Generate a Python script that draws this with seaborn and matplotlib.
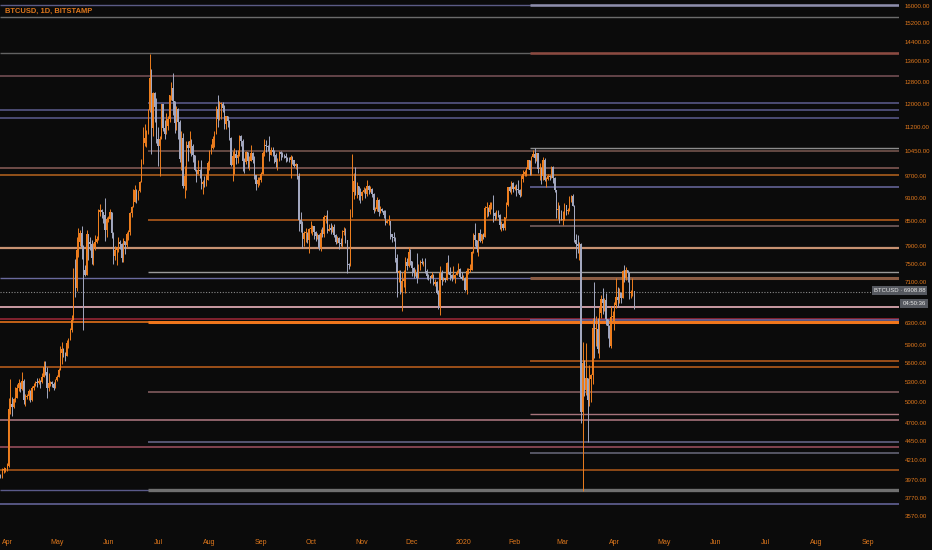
import numpy as np
import pandas as pd
import matplotlib
matplotlib.use("Agg")
import matplotlib.pyplot as plt
import matplotlib.dates as mdates
from matplotlib.ticker import NullLocator, FixedLocator, FixedFormatter
import seaborn as sns

# ---------------- data ----------------
title = "BTCUSD, 1D, BITSTAMP"
start_date = "2019-03-27"
first_open = 3930

close_2019_03 = [4030, 4010, 4090, 4100, 4100]
high_2019_03 = [4050, 4040, 4110, 4130, 4110]
low_2019_03 = [3920, 3990, 4000, 4050, 4070]

close_2019_04 = [4140, 4900, 4970, 4920, 5040, 5060, 5210, 5280, 5190, 5320,
                 5030, 5070, 5080, 5160, 5030, 5210, 5240, 5290, 5280, 5320,
                 5300, 5380, 5530, 5450, 5200, 5280, 5290, 5270, 5210, 5330]
high_2019_04 = [4170, 5050, 5340, 5070, 5060, 5220, 5260, 5340, 5290, 5460,
                5350, 5110, 5120, 5190, 5180, 5230, 5280, 5310, 5360, 5360,
                5330, 5440, 5630, 5630, 5530, 5440, 5320, 5310, 5290, 5340]
low_2019_04 = [4080, 4130, 4820, 4800, 4910, 4990, 5050, 5160, 5140, 5180,
               4960, 4940, 5040, 5030, 4990, 5010, 5180, 5230, 5220, 5260,
               5200, 5280, 5370, 5400, 5060, 5160, 5230, 5220, 5180, 5200]

close_2019_05 = [5380, 5490, 5760, 5830, 5760, 5720, 5940, 6000, 6180, 6360,
                 7260, 6980, 7810, 7990, 8200, 7880, 7350, 7260, 8190, 7990,
                 7950, 7630, 7880, 7990, 8070, 8740, 8790, 8720, 8660, 8280,
                 8560]
high_2019_05 = [5410, 5520, 5880, 5960, 5850, 5790, 6000, 6030, 6200, 6440,
                7400, 7600, 8120, 8320, 8270, 8380, 7920, 7460, 8270, 8190,
                8100, 8030, 7970, 8160, 8140, 8800, 8940, 8800, 8730, 9090,
                8590]
low_2019_05 = [5310, 5370, 5480, 5580, 5700, 5630, 5720, 5860, 5990, 6140,
               6360, 6800, 6930, 7640, 7900, 7600, 6180, 7240, 7250, 7590,
               7800, 7500, 7470, 7800, 7960, 8030, 8630, 8570, 8450, 8020,
               8120]

close_2019_06 = [8560, 8740, 8210, 7680, 7800, 7810, 8000, 7940, 7630, 8020,
                 7920, 8170, 8230, 8690, 8860, 8980, 9320, 9080, 9270, 9530,
                 10170, 10700, 10860, 11000, 11780, 12920, 11160, 12370, 11880, 10800]
high_2019_06 = [8630, 8810, 8740, 8220, 7900, 7870, 8120, 8040, 7960, 8080,
                8020, 8220, 8290, 8720, 8880, 9340, 9460, 9330, 9300, 9560,
                10190, 11200, 11300, 11100, 11810, 13880, 13300, 12420, 12400, 12200]
low_2019_06 = [8480, 8540, 8080, 7500, 7580, 7460, 7760, 7830, 7530, 7530,
               7720, 7870, 8050, 8160, 8610, 8850, 8980, 8950, 9050, 9250,
               9530, 10050, 10600, 10560, 10990, 11700, 10350, 10900, 11380, 10700]

close_2019_07 = [10580, 10820, 11970, 11160, 10980, 11240, 11470, 12290, 12570, 12100,
                 11350, 11800, 11380, 10200, 10860, 9430, 9690, 10630, 10530, 10760,
                 10590, 10330, 9860, 9770, 9880, 9850, 9480, 9530, 9500, 9590,
                 10080]
high_2019_07 = [11200, 10900, 11990, 12000, 11420, 11660, 11580, 12320, 12800, 13130,
                12100, 11900, 11840, 11450, 11080, 11000, 9990, 10740, 10750, 11080,
                10800, 10660, 10330, 9910, 10170, 9890, 10180, 9600, 9700, 9760,
                10140]
low_2019_07 = [10000, 9690, 10820, 11070, 10800, 10980, 11100, 11370, 12130, 11600,
               11000, 11090, 10830, 10100, 9870, 9370, 9100, 9300, 10150, 10370,
               10300, 10110, 9840, 9530, 9750, 9650, 9350, 9190, 9400, 9410,
               9590]

close_2019_08 = [10400, 10530, 10820, 10980, 11800, 11470, 11970, 11980, 11860, 11290,
                 11560, 11390, 10860, 10020, 10300, 10360, 10220, 10320, 10920, 10760,
                 10130, 10110, 10400, 10140, 10140, 10370, 10180, 9720, 9480, 9580,
                 9600]
high_2019_08 = [10480, 10670, 10920, 11080, 11900, 12300, 12100, 12050, 12040, 11950,
                11580, 11550, 11450, 10880, 10440, 10530, 10480, 10480, 10950, 10950,
                10800, 10240, 10440, 10420, 10300, 10620, 10400, 10290, 9720, 9680,
                9680]
low_2019_08 = [9880, 10350, 10510, 10560, 10980, 11200, 11450, 11470, 11700, 11130,
               11150, 11190, 10790, 9980, 9560, 9750, 10050, 10080, 10290, 10600,
               9850, 9800, 10050, 9920, 9880, 10140, 10080, 9610, 9320, 9400,
               9440]

close_2019_09 = [9760, 10390, 10620, 10580, 10570, 10330, 10480, 10400, 10330, 10100,
                 10160, 10410, 10360, 10320, 10300, 10240, 10190, 10160, 10270, 10170,
                 9990, 10040, 9700, 8530, 8430, 8060, 8200, 8200, 8040, 8300]
high_2019_09 = [9810, 10440, 10800, 10780, 10640, 10910, 10560, 10560, 10470, 10390,
                10240, 10440, 10440, 10410, 10360, 10370, 10260, 10260, 10310, 10280,
                10180, 10090, 10050, 9790, 8740, 8500, 8260, 8330, 8220, 8330]
low_2019_09 = [9520, 9750, 10300, 10400, 10450, 10150, 10320, 10300, 10080, 9960,
               9880, 10130, 10170, 10260, 10240, 10100, 10130, 10100, 9640, 10060,
               9960, 9900, 9620, 8250, 8230, 7860, 7890, 8000, 7960, 7730]

close_2019_10 = [8300, 8370, 8230, 8140, 8150, 7860, 8200, 8190, 8590, 8590,
                 8260, 8300, 8290, 8360, 8160, 8000, 8080, 7960, 7950, 8230,
                 8230, 8030, 7480, 7470, 8660, 9250, 9550, 9220, 9430, 9180,
                 9150]
high_2019_10 = [8500, 8400, 8370, 8250, 8200, 8190, 8310, 8340, 8660, 8650,
                8790, 8420, 8440, 8400, 8430, 8170, 8130, 8120, 8080, 8290,
                8350, 8320, 8050, 7510, 8800, 10350, 9800, 9950, 9540, 9420,
                9360]
low_2019_10 = [8200, 8160, 8060, 8010, 8060, 7800, 7780, 8120, 8120, 8460,
               8210, 8250, 8190, 8230, 8100, 7940, 7960, 7820, 7890, 7870,
               8150, 7970, 7300, 7380, 7450, 8600, 9080, 9180, 9100, 9040,
               8970]

close_2019_11 = [9250, 9300, 9210, 9410, 9320, 9350, 9200, 8780, 8810, 9040,
                 8720, 8800, 8760, 8640, 8460, 8490, 8500, 8170, 8110, 8080,
                 7620, 7290, 7330, 6900, 7120, 7160, 7540, 7440, 7770, 7560]
high_2019_11 = [9280, 9380, 9360, 9590, 9450, 9420, 9370, 9220, 8860, 9130,
                9080, 8880, 8830, 8790, 8770, 8530, 8640, 8510, 8190, 8220,
                8100, 7710, 7350, 7360, 7310, 7360, 7650, 7620, 7870, 7820]
low_2019_11 = [9030, 9220, 9100, 9140, 9190, 9260, 9110, 8700, 8760, 8750,
               8630, 8690, 8720, 8580, 8400, 8440, 8410, 8070, 8000, 8020,
               7530, 6800, 7100, 6860, 6530, 7010, 6870, 7370, 7420, 7470]

close_2019_12 = [7400, 7300, 7300, 7200, 7400, 7540, 7510, 7520, 7340, 7230,
                 7210, 7200, 7260, 7070, 7110, 6880, 6620, 7290, 7150, 7190,
                 7150, 7520, 7320, 7250, 7200, 7200, 7250, 7310, 7390, 7220,
                 7170]
high_2019_12 = [7560, 7420, 7390, 7740, 7490, 7570, 7620, 7560, 7630, 7380,
                7270, 7240, 7310, 7270, 7170, 7130, 6940, 7440, 7370, 7220,
                7190, 7530, 7700, 7430, 7280, 7440, 7270, 7370, 7520, 7410,
                7310]
low_2019_12 = [7240, 7180, 7240, 7080, 7180, 7370, 7490, 7440, 7300, 7160,
               7140, 7080, 7200, 7040, 7030, 6860, 6570, 6440, 7050, 7120,
               7110, 7140, 7270, 7150, 7130, 7160, 7080, 7250, 7290, 7200,
               7140]

close_2020_01 = [7180, 6950, 7340, 7350, 7360, 7760, 8160, 8050, 7820, 8200,
                 8020, 8180, 8110, 8820, 8820, 8720, 8900, 8910, 8700, 8630,
                 8730, 8660, 8390, 8430, 8330, 8600, 8900, 9390, 9290, 9510,
                 9350]
high_2020_01 = [7250, 7210, 7400, 7400, 7500, 7790, 8210, 8460, 8050, 8200,
                8300, 8190, 8200, 8880, 8980, 8850, 9000, 9000, 9170, 8720,
                8770, 8790, 8670, 8500, 8440, 8600, 9000, 9400, 9430, 9560,
                9520]
low_2020_01 = [7150, 6920, 6860, 7270, 7320, 7350, 7740, 7890, 7760, 7680,
               8000, 7970, 8070, 8100, 8600, 8620, 8680, 8800, 8470, 8520,
               8560, 8600, 8300, 8250, 8290, 8280, 8570, 8880, 9260, 9210,
               9250]

close_2020_02 = [9380, 9340, 9300, 9180, 9620, 9760, 9810, 9910, 10160, 9860,
                 10270, 10350, 10230, 10370, 9900, 9930, 9700, 10180, 9600, 9610,
                 9690, 9670, 9970, 9650, 9310, 8790, 8790, 8680, 8530]
high_2020_02 = [9440, 9470, 9590, 9340, 9720, 9860, 9870, 9950, 10170, 10150,
                10300, 10480, 10520, 10390, 10380, 10070, 9960, 10250, 10230, 9680,
                9760, 9720, 9990, 10000, 9660, 9320, 8990, 8900, 8770]
low_2020_02 = [9320, 9150, 9220, 9110, 9160, 9530, 9710, 9700, 9900, 9730,
               9740, 10250, 10090, 10140, 9780, 9600, 9470, 9590, 9560, 9400,
               9590, 9590, 9640, 9500, 9250, 8570, 8560, 8460, 8520]

close_2020_03 = [8530, 8920, 8760, 8760, 9070, 9150, 8890, 8030, 7940, 7890,
                 7940, 4850, 5600, 5170, 5360, 5020, 5340, 5400, 6200, 6190,
                 6190, 5830, 6480, 6760, 6690, 6740, 6370, 6250, 5880, 6410,
                 6420]
high_2020_03 = [8750, 8950, 8920, 8840, 9150, 9180, 9200, 8900, 8180, 8150,
                7980, 7960, 5950, 5650, 5940, 5360, 5560, 5430, 6400, 7100,
                6430, 6400, 6600, 6830, 6990, 6780, 6880, 6290, 6270, 6620,
                6530]
low_2020_03 = [8410, 8520, 8660, 8680, 8760, 9000, 8870, 8000, 7630, 7740,
               7580, 4700, 3850, 5080, 5100, 4440, 4940, 5000, 5260, 5680,
               5880, 5760, 5690, 6400, 6470, 6530, 6260, 6030, 5870, 5860,
               6330]

close_2020_04 = [6640, 6800, 6740, 6870, 6780, 7340, 7200, 7370, 7300, 6870, 6890, 6910, 6909]
high_2020_04 = [6700, 7200, 7000, 6990, 6900, 7370, 7460, 7420, 7370, 7310, 6950, 7190, 6920]
low_2020_04 = [6170, 6580, 6620, 6680, 6680, 6780, 7100, 7150, 7110, 6750, 6780, 6810, 6560]

last_price = 6908.88
countdown = "04:50:36"

# horizontal levels drawn on the chart
level_prices = [16019, 15491, 13904, 13015, 12032, 11778, 11487, 10525, 10426,
                9941, 9744, 9394, 8514, 8376, 7859, 7325, 7179, 6597, 6368,
                6349, 6309, 5639, 5533, 5140, 4818, 4733, 4445, 4376, 4296,
                4093, 3858, 3696]
# extra highlighted segments at some levels
segment_prices = [16019, 13904, 7179, 6309, 3858]

y_ticks = [16000, 15200, 14400, 13600, 12800, 12000, 11200, 10450, 9700, 9100,
           8500, 7900, 7500, 7100, 6300, 5900, 5600, 5300, 5000, 4700, 4450,
           4210, 3970, 3770, 3570]
x_tick_dates = ["2019-04-01", "2019-05-01", "2019-06-01", "2019-07-01", "2019-08-01",
                "2019-09-01", "2019-10-01", "2019-11-01", "2019-12-01", "2020-01-01",
                "2020-02-01", "2020-03-01", "2020-04-01", "2020-05-01", "2020-06-01",
                "2020-07-01", "2020-08-01", "2020-09-01"]
x_tick_labels = ["Apr", "May", "Jun", "Jul", "Aug", "Sep", "Oct", "Nov", "Dec",
                 "2020", "Feb", "Mar", "Apr", "May", "Jun", "Jul", "Aug", "Sep"]

# ---------------- styles ----------------
J = "2019-06-24 22:00"
F = "2020-02-10 12:00"
level_styles = [  # (color, width, start)
    ("#5c5c86", 1.0, None), ("#6c6c6c", 1.0, None), ("#626262", 1.0, None),
    ("#7a5458", 1.1, None), ("#5e5e90", 1.1, J), ("#5c5c8e", 1.1, None),
    ("#5c5c8e", 1.1, None), ("#8c8c8c", 1.0, F), ("#7c5a52", 1.1, J),
    ("#8a5e58", 1.1, None), ("#b8641e", 1.1, None), ("#6a6aa0", 1.1, F),
    ("#c0621c", 1.1, J), ("#7e6666", 1.1, F), ("#c89272", 1.6, None),
    ("#9a9a9a", 1.0, J), ("#6a6a9e", 1.0, None), ("#d8a6ae", 1.3, None),
    ("#a22838", 1.1, None), ("#6a6aa8", 1.1, F), ("#e2701a", 1.2, None),
    ("#b0581c", 1.2, F), ("#c2621c", 1.1, None), ("#8a6264", 1.1, J),
    ("#a8747c", 1.0, F), ("#b27a84", 1.1, None), ("#6a6a8e", 1.1, J),
    ("#a05262", 1.1, None), ("#6a6a7c", 1.1, F), ("#b05a1a", 1.1, None),
    ("#5a5a8a", 1.0, None), ("#6a6aa2", 1.1, None),
]
segment_styles = [("#8e8eac", 1.8, F), ("#8c4a40", 1.8, F), ("#8a5c44", 2.2, F),
                  ("#f0761c", 2.2, J), ("#707070", 2.4, J)]

BG = "#0b0b0b"
ORANGE = "#e0781c"
UP = "#ee7e1e"
DOWN = "#a3a8c0"

sns.set_theme(style="dark", rc={
    "axes.facecolor": BG, "figure.facecolor": BG, "savefig.facecolor": BG,
    "axes.edgecolor": BG, "axes.grid": False,
})
plt.rcParams["font.family"] = ["Liberation Sans", "DejaVu Sans"]

# ---------------- build frame ----------------
closes = (close_2019_03 + close_2019_04 + close_2019_05 + close_2019_06 + close_2019_07
          + close_2019_08 + close_2019_09 + close_2019_10 + close_2019_11 + close_2019_12
          + close_2020_01 + close_2020_02 + close_2020_03 + close_2020_04)
highs = (high_2019_03 + high_2019_04 + high_2019_05 + high_2019_06 + high_2019_07
         + high_2019_08 + high_2019_09 + high_2019_10 + high_2019_11 + high_2019_12
         + high_2020_01 + high_2020_02 + high_2020_03 + high_2020_04)
lows = (low_2019_03 + low_2019_04 + low_2019_05 + low_2019_06 + low_2019_07
        + low_2019_08 + low_2019_09 + low_2019_10 + low_2019_11 + low_2019_12
        + low_2020_01 + low_2020_02 + low_2020_03 + low_2020_04)

df = pd.DataFrame({"close": closes, "high": highs, "low": lows},
                  dtype=float)
df["open"] = [first_open] + closes[:-1]
df["date"] = pd.date_range(start_date, periods=len(df), freq="D")
df["high"] = df[["high", "open", "close"]].max(axis=1)
df["low"] = df[["low", "open", "close"]].min(axis=1)
df["up"] = df["close"] >= df["open"]
df["x"] = mdates.date2num(df["date"])

# ---------------- figure ----------------
W, H = 932, 550
fig = plt.figure(figsize=(W / 100, H / 100), dpi=100)
ax_w, ax_h = 899, 532
ax = fig.add_axes([0, 1 - ax_h / H, ax_w / W, ax_h / H])
ax.set_facecolor(BG)

base = mdates.date2num(pd.Timestamp("2019-04-01"))
xl, xr = base - 4.28, base + 537.67
ax.set_xlim(xl, xr)
ax.set_yscale("log")
ax.set_ylim(3409, 16270)

# levels
for p, (c, w, s) in zip(level_prices, level_styles):
    x0 = xl if s is None else mdates.date2num(pd.Timestamp(s))
    ax.hlines(p, x0, xr, colors=c, lw=w, zorder=1)
for p, (c, w, s) in zip(segment_prices, segment_styles):
    x0 = mdates.date2num(pd.Timestamp(s))
    ax.hlines(p, x0, xr, colors=c, lw=w, zorder=1.5)

# current price dotted line
sns.lineplot(x=[xl, xr], y=[last_price, last_price], ax=ax, color="#8a8a8a",
             lw=0.8, linestyle=(0, (1, 1.5)), zorder=1.2)

# candles
colors = np.where(df["up"], UP, DOWN)
ax.vlines(df["x"], df["low"], df["high"], colors=colors, lw=0.7, zorder=3)
body_lo = df[["open", "close"]].min(axis=1)
body_hi = df[["open", "close"]].max(axis=1)
body_hi = np.maximum(body_hi, body_lo * 1.003)
ax.bar(df["x"], body_hi - body_lo, bottom=body_lo, width=0.72, color=colors,
       linewidth=0, zorder=4)

# axes decorations
for sp in ax.spines.values():
    sp.set_visible(False)
ax.yaxis.tick_right()
ax.yaxis.set_minor_locator(NullLocator())
ax.yaxis.set_major_locator(FixedLocator(y_ticks))
ax.yaxis.set_major_formatter(FixedFormatter([f"{v:.2f}" for v in y_ticks]))
ax.set_xticks(mdates.date2num(pd.to_datetime(x_tick_dates)))
ax.set_xticklabels(x_tick_labels)
ax.tick_params(axis="y", length=0, pad=4, labelsize=4.4, labelcolor=ORANGE)
ax.tick_params(axis="x", length=0, pad=5, labelsize=5.0, labelcolor=ORANGE)
ax.set_xlabel("")
ax.set_ylabel("")

# title
fig.text(5 / W, 1 - 11 / H, title, color=ORANGE, fontsize=5.4,
         fontweight="bold", ha="left", va="center")

# price label boxes
fig.text(899.5 / W, 1 - 290.5 / H, f"BTCUSD \u00b7 {last_price:.2f}", color="#e8e8e8",
         fontsize=4.3, ha="center", va="center",
         bbox=dict(boxstyle="square,pad=0.35", fc="#55585f", ec="none"))
fig.text(914 / W, 1 - 303.5 / H, countdown, color="#e8e8e8", fontsize=4.3,
         ha="center", va="center",
         bbox=dict(boxstyle="square,pad=0.35", fc="#55585f", ec="none"))

fig.savefig("out.png", dpi=100, facecolor=BG)
